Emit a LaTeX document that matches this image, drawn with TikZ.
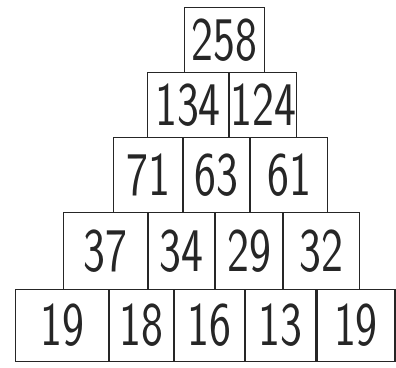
\documentclass[tikz,border=0pt]{standalone}
\usepackage{graphicx}
\usetikzlibrary{positioning}
\newcommand{\digs}[1]{\scalebox{0.75}[1]{#1}}

\begin{document}
\begin{tikzpicture}[x=1pt, y=-1pt, line width=1.1pt, draw=black!85,
    brick/.style={draw, rectangle, inner sep=0pt, anchor=north west,
        text=black!85, font=\sffamily\fontsize{62}{62}\selectfont}]
        \useasboundingbox (0,0) rectangle (396,367);

        % Top
        \node (r1a) [brick, minimum width=80pt, minimum height=65pt] at (184,7) {\digs{258}};

        % Second row
        \node (r2a) [brick, minimum width=81pt, minimum height=65pt] at (147,72) {\digs{134}};
        \node (r2b) [brick, minimum width=67pt, minimum height=65pt, right=0pt of r2a] {\digs{124}};

        % Third row
        \node (r3a) [brick, minimum width=69pt, minimum height=75pt] at (113,137) {\digs{71}};
        \node (r3b) [brick, minimum width=66pt, minimum height=75pt, right=0pt of r3a] {\digs{63}};
        \node (r3c) [brick, minimum width=77pt, minimum height=75pt, right=0pt of r3b] {\digs{61}};

        % Fourth row
        \node (r4a) [brick, minimum width=84pt, minimum height=77pt] at (63,212) {\digs{37}};
        \node (r4b) [brick, minimum width=66pt, minimum height=77pt, right=0pt of r4a] {\digs{34}};
        \node (r4c) [brick, minimum width=67pt, minimum height=77pt, right=0pt of r4b] {\digs{29}};
        \node (r4d) [brick, minimum width=76pt, minimum height=77pt, right=0pt of r4c] {\digs{32}};

        % Bottom row
        \node (r5a) [brick, minimum width=93pt, minimum height=72pt] at (15,289) {\digs{19}};
        \node (r5b) [brick, minimum width=64pt, minimum height=72pt, right=0pt of r5a] {\digs{18}};
        \node (r5c) [brick, minimum width=70pt, minimum height=72pt, right=0pt of r5b] {\digs{16}};
        \node (r5d) [brick, minimum width=70pt, minimum height=72pt, right=0pt of r5c] {\digs{13}};
        \node (r5e) [brick, minimum width=78pt, minimum height=72pt, right=0pt of r5d] {\digs{19}};
\end{tikzpicture}
\end{document}
